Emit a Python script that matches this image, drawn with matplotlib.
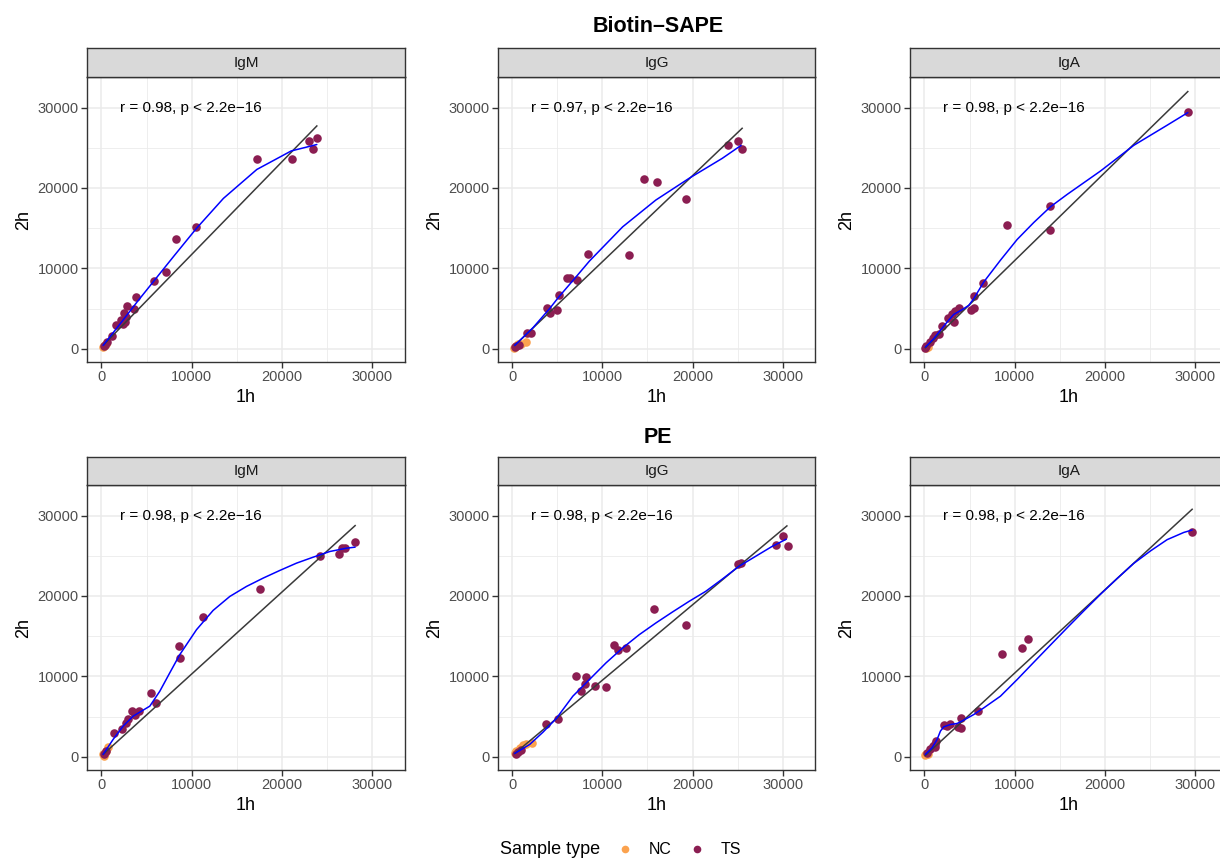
import numpy as np
import matplotlib
matplotlib.use("Agg")
import matplotlib.pyplot as plt
from matplotlib.lines import Line2D

plt.rcParams['font.family'] = ['Liberation Sans', 'DejaVu Sans']

# --- data: (1h, 2h) signal per sample, loess curve and lm line per panel ---
# Biotin-SAPE
sape_igm_ts = [(23840, 26260), (23020, 25840), (23390, 24800), (21060, 23560), (17220, 23560),
               (10500, 15080), (8200, 13630), (7130, 9600), (5770, 8430), (3810, 6440),
               (3620, 4940), (2850, 5320), (2510, 4450), (2770, 3950), (2330, 3030),
               (1590, 2910), (1220, 1540), (2150, 3600), (2600, 3300), (400, 500),
               (250, 300), (600, 800)]
sape_igm_nc = [(120, 200), (300, 350), (500, 600)]
sape_igm_fit_x = [185, 2000, 4000, 6000, 8000, 10500, 13500, 17200, 21000, 23840]
sape_igm_fit_y = [415, 3000, 5900, 8700, 11500, 14950, 18700, 22300, 24600, 25400]
sape_igm_lm = [(300, 550), (23840, 27710)]

sape_igg_ts = [(25510, 24800), (25060, 25840), (23890, 25380), (14630, 21150), (16030, 20730),
               (19310, 18610), (12970, 11720), (8370, 11840), (6040, 8850), (6380, 8850),
               (7220, 8600), (5120, 6730), (3830, 5110), (4200, 4450), (4940, 4780),
               (2030, 1950), (1620, 1950), (400, 300), (700, 500), (250, 200)]
sape_igg_nc = [(1470, 830), (630, 540), (440, 290), (1000, 620), (200, 150)]
sape_igg_fit_x = [260, 2290, 4130, 5120, 7220, 8550, 12240, 15920, 19610, 23300, 25400]
sape_igg_fit_y = [415, 2620, 4990, 6400, 9140, 10900, 15160, 18490, 21190, 23680, 25300]
sape_igg_lm = [(260, 415), (25510, 27420)]

sape_iga_ts = [(29150, 29460), (13950, 17780), (13950, 14750), (9150, 15330), (6490, 8140),
               (5460, 6560), (5460, 5070), (5170, 4780), (3870, 5070), (3430, 4690),
               (3060, 4360), (3250, 3320), (2620, 3820), (1990, 2830), (1590, 1870),
               (1220, 1660), (960, 1330), (590, 830), (220, 290), (50, 120)]
sape_iga_nc = [(150, 100), (350, 200)]
sape_iga_fit_x = [110, 1030, 1770, 2510, 3250, 4170, 4910, 5460, 6570, 8410, 10260, 12100,
                  13950, 15790, 19480, 23170, 26860, 29150]
sape_iga_fit_y = [210, 1250, 2290, 3320, 4280, 4860, 5400, 6230, 8310, 11010, 13590, 15700,
                  17660, 19190, 22100, 25300, 27800, 29370]
sape_iga_lm = [(100, 125), (29150, 31990)]

# PE
pe_igm_ts = [(28080, 26770), (26940, 25940), (26640, 26020), (26310, 25240), (24240, 24990),
             (17600, 20850), (11250, 17380), (8560, 13740), (8670, 12290), (5460, 7940),
             (6090, 6700), (4170, 5750), (3390, 5750), (3690, 5250), (2990, 4720),
             (2770, 4220), (2290, 3480), (1400, 2900), (300, 400), (500, 700)]
pe_igm_nc = [(740, 1200), (550, 700), (185, 290), (370, 410), (300, 150)]
pe_igm_fit_x = [185, 1290, 2400, 3510, 4430, 5350, 6460, 7560, 8670, 10520, 12360, 14210,
                16050, 17900, 19740, 21590, 23430, 25280, 27120, 28080]
pe_igm_fit_y = [290, 2150, 3810, 5050, 5670, 6290, 8150, 10430, 12700, 15800, 18200, 19940,
                21180, 22220, 23170, 24080, 24820, 25530, 25940, 26070]
pe_igm_lm = [(185, 290), (28080, 28750)]

pe_igg_ts = [(30560, 26230), (30000, 27470), (29270, 26350), (25060, 24000), (25430, 24080),
             (15700, 18370), (19280, 16340), (11320, 13860), (11680, 13320), (12610, 13530),
             (7080, 10010), (8150, 9890), (8070, 9060), (7630, 8230), (9140, 8850),
             (10430, 8650), (3760, 4010), (5010, 4720), (900, 800), (600, 600), (350, 400)]
pe_igg_nc = [(2210, 1740), (1180, 1410), (810, 1120), (440, 700), (260, 410), (1550, 1530)]
pe_igg_fit_x = [260, 1920, 3390, 4870, 6710, 8550, 10390, 12240, 14080, 15920, 17770, 19610,
                21450, 23300, 25140, 26980, 28820, 30410]
pe_igg_fit_y = [410, 1530, 3050, 4750, 7530, 9600, 11670, 13530, 15180, 16630, 18000, 19320,
                20560, 22090, 23670, 24910, 26150, 27060]
pe_igg_lm = [(260, 410), (30480, 28710)]

pe_iga_ts = [(29630, 28010), (11510, 14690), (10770, 13530), (8600, 12740), (5900, 5750),
             (3990, 4760), (3990, 3600), (3690, 3720), (2800, 4010), (2140, 3890),
             (2510, 3810), (1330, 1900), (1140, 1610), (960, 1320), (590, 910),
             (300, 410), (1200, 1200)]
pe_iga_nc = [(100, 170), (220, 290), (400, 300)]
pe_iga_fit_x = [110, 850, 1400, 1770, 2140, 2880, 3620, 4350, 5460, 6570, 8410, 10260, 12100,
                13950, 15790, 17640, 19480, 21330, 23170, 25020, 26860, 28710, 29630]
pe_iga_fit_y = [290, 1120, 2150, 3190, 3720, 4010, 4140, 4550, 5250, 6080, 7530, 9600, 11750,
                13900, 16030, 18140, 20200, 22170, 24050, 25600, 27000, 27900, 28200]
pe_iga_lm = [(110, 165), (29630, 30780)]

row_titles = ['Biotin–SAPE', 'PE']
isotypes = ['IgM', 'IgG', 'IgA']
r_values = [['0.98', '0.97', '0.98'], ['0.98', '0.98', '0.98']]

panels = [
    [(sape_igm_ts, sape_igm_nc, sape_igm_fit_x, sape_igm_fit_y, sape_igm_lm),
     (sape_igg_ts, sape_igg_nc, sape_igg_fit_x, sape_igg_fit_y, sape_igg_lm),
     (sape_iga_ts, sape_iga_nc, sape_iga_fit_x, sape_iga_fit_y, sape_iga_lm)],
    [(pe_igm_ts, pe_igm_nc, pe_igm_fit_x, pe_igm_fit_y, pe_igm_lm),
     (pe_igg_ts, pe_igg_nc, pe_igg_fit_x, pe_igg_fit_y, pe_igg_lm),
     (pe_iga_ts, pe_iga_nc, pe_iga_fit_x, pe_iga_fit_y, pe_iga_lm)],
]

# --- style ---
COL_NC = '#FBA24E'
COL_TS = '#8B1E52'
COL_FIT = '#0000FF'
COL_LM = '#3A3A3A'
EDGE = '#333333'
GRID = '#EBEBEB'

W, H = 1220, 861
fig = plt.figure(figsize=(W / 100, H / 100), dpi=100)

# panel boxes in pixels
col_px = [(87, 405), (498, 815), (910, 1228)]
row_px = [(48, 77, 362), (457, 485, 770)]
title_y = [27, 437]


def box(x0, x1, ytop, ybot):
    return [x0 / W, 1 - ybot / H, (x1 - x0) / W, (ybot - ytop) / H]


for r in range(2):
    strip_top, plot_top, plot_bot = row_px[r]
    for c in range(3):
        ts, nc, fx, fy, lm = panels[r][c]
        x0, x1 = col_px[c]
        ax = fig.add_axes(box(x0, x1, plot_top, plot_bot))

        ax.set_xlim(-1600, 33600)
        ax.set_ylim(-1650, 33800)
        ticks = [0, 10000, 20000, 30000]
        minor = [5000, 15000, 25000]
        ax.set_xticks(ticks)
        ax.set_yticks(ticks)
        ax.set_xticks(minor, minor=True)
        ax.set_yticks(minor, minor=True)
        ax.set_xticklabels([str(t) for t in ticks])
        ax.set_yticklabels([str(t) for t in ticks])
        ax.grid(True, which='major', color=GRID, lw=1.1, zorder=0)
        ax.grid(True, which='minor', color=GRID, lw=0.6, zorder=0)
        ax.set_axisbelow(True)
        for s in ax.spines.values():
            s.set_color(EDGE)
            s.set_linewidth(1.0)
        ax.tick_params(which='major', length=4, width=1, color=EDGE,
                       labelcolor='#4D4D4D', labelsize=10.5, pad=2)
        ax.tick_params(which='minor', length=0)
        ax.set_xlabel('1h', fontsize=13, labelpad=3)
        ax.set_ylabel('2h', fontsize=13, labelpad=4)

        nc = np.array(nc)
        ts = np.array(ts)
        ax.scatter(nc[:, 0], nc[:, 1], s=38, color=COL_NC, linewidths=0, zorder=3)
        ax.scatter(ts[:, 0], ts[:, 1], s=38, color=COL_TS, linewidths=0, zorder=3)

        lm = np.array(lm)
        ax.plot(lm[:, 0], lm[:, 1], color=COL_LM, lw=1.1, zorder=4)
        ax.plot(fx, fy, color=COL_FIT, lw=1.1, zorder=5,
                solid_joinstyle='round', solid_capstyle='round')

        ax.text(2100, 30000, f'r = {r_values[r][c]}, p < 2.2e−16', fontsize=11,
                ha='left', va='center', color='black', zorder=6)

        # facet strip
        sax = fig.add_axes(box(x0, x1, strip_top, plot_top))
        sax.set_facecolor('#D9D9D9')
        sax.set_xticks([])
        sax.set_yticks([])
        for s in sax.spines.values():
            s.set_color(EDGE)
            s.set_linewidth(1.0)
        sax.text(0.5, 0.5, isotypes[c], ha='center', va='center', fontsize=11,
                 color='#1A1A1A', transform=sax.transAxes)

    fig.text(658 / W, 1 - title_y[r] / H, row_titles[r], ha='center', va='center',
             fontsize=15.5, fontweight='bold')

# legend along the bottom
fig.text(500 / W, 1 - 850 / H, 'Sample type', ha='left', va='center', fontsize=13)
handles = [Line2D([], [], marker='o', ls='none', ms=5.5, color=COL_NC, mew=0),
           Line2D([], [], marker='o', ls='none', ms=5.5, color=COL_TS, mew=0)]
fig.legend(handles, ['NC', 'TS'], loc='center left', bbox_to_anchor=(615 / W, 1 - 850 / H),
           ncol=2, frameon=False, fontsize=11.5, handlelength=1.2, handletextpad=0.9,
           columnspacing=1.0, borderpad=0, borderaxespad=0)

fig.savefig('out.png', dpi=100)
